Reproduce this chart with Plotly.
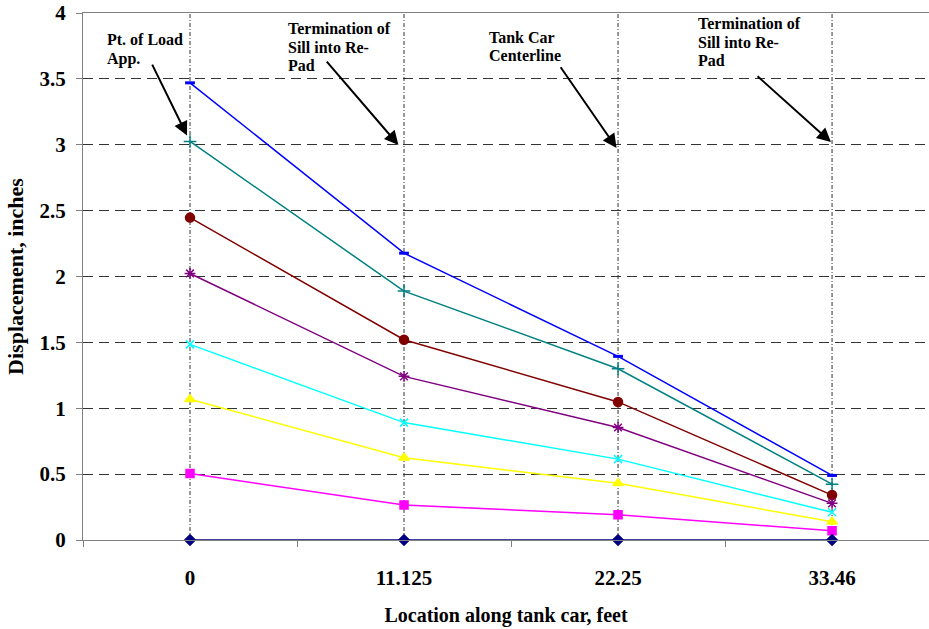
import plotly.graph_objects as go

# Locations along the tank car (feet) used as category labels
locations = ["0", "11.125", "22.25", "33.46"]

# Vertical displacement (inches) at each location, one list per load step
disp_1 = [3.47, 2.177, 1.394, 0.49]
disp_2 = [3.025, 1.889, 1.30, 0.424]
disp_3 = [2.447, 1.52, 1.048, 0.341]
disp_4 = [2.023, 1.242, 0.854, 0.278]
disp_5 = [1.485, 0.891, 0.614, 0.21]
disp_6 = [1.068, 0.624, 0.43, 0.139]
disp_7 = [0.505, 0.265, 0.192, 0.07]
disp_8 = [0.0, 0.0, 0.0, 0.0]

series = [
    ("Step 1", disp_1, "#0000FF", "line-ew", 7),
    ("Step 2", disp_2, "#008080", "cross-thin", 9),
    ("Step 3", disp_3, "#800000", "circle", 9),
    ("Step 4", disp_4, "#800080", "asterisk", 9),
    ("Step 5", disp_5, "#00FFFF", "x-thin", 8),
    ("Step 6", disp_6, "#FFFF00", "triangle-up", 9),
    ("Step 7", disp_7, "#FF00FF", "square", 8),
    ("Step 8", disp_8, "#000080", "diamond", 8),
]

FONT = "Times New Roman, Liberation Serif, Tinos, DejaVu Serif, serif"

fig = go.Figure()

# Dash-dot drop lines at each location (category index on the x axis)
for i, _ in enumerate(locations):
    fig.add_shape(type="line", xref="x", yref="paper", x0=i, x1=i, y0=0, y1=1,
                  line=dict(color="#333333", width=1, dash="4px,2px,1px,2px"), layer="below")

for name, vals, color, sym, size in series:
    marker = dict(symbol=sym, size=size, color=color,
                  line=dict(color=color, width=3 if sym == "line-ew" else 1.5))
    fig.add_trace(go.Scatter(x=locations, y=vals, name=name, mode="lines+markers",
                             line=dict(color=color, width=1.5), marker=marker,
                             showlegend=False, cliponaxis=False))

# Callout labels (one annotation per text line for tight line spacing)
LINE_STEP = 0.141  # ~18.5 px in data units
labels = [
    (["Pt. of Load", "App."], -0.395, 3.875),
    (["Termination of", "Sill into Re-", "Pad"], 0.447, 3.962),
    (["Tank Car", "Centerline"], 1.386, 3.895),
    (["Termination of", "Sill into Re-", "Pad"], 2.362, 4.0),
]
for lines, x, y in labels:
    for k, line in enumerate(lines):
        fig.add_annotation(text="<b>" + line + "</b>",
                           x=x, y=y - k * LINE_STEP, xref="x", yref="y",
                           xanchor="left", yanchor="top", align="left", showarrow=False,
                           font=dict(family=FONT, size=16, color="black"))

arrows = [
    (-0.014, 3.07, -0.180, 3.62),
    (0.974, 2.998, 0.633, 3.643),
    (1.993, 2.975, 1.727, 3.60),
    (2.995, 3.02, 2.645, 3.53),
]
for hx, hy, tx, ty in arrows:
    fig.add_annotation(text="", x=hx, y=hy, ax=tx, ay=ty, xref="x", yref="y",
                       axref="x", ayref="y", showarrow=True, arrowhead=2,
                       arrowsize=1.4, arrowwidth=2, arrowcolor="black", standoff=0,
                       startstandoff=0)

fig.update_layout(
    width=929, height=629,
    margin=dict(l=83, r=0, t=13, b=89),
    paper_bgcolor="white", plot_bgcolor="white",
    font=dict(family=FONT, color="black"),
)

fig.update_xaxes(
    type="category", categoryorder="array", categoryarray=locations,
    range=[-0.5, 3.453], tickson="boundaries", ticks="outside", ticklen=6,
    tickcolor="#808080", showgrid=False, showline=True, linecolor="#808080",
    linewidth=1, mirror=True, zeroline=False,
    tickfont=dict(family=FONT, size=21, color="black"), ticklabelstandoff=19,
    tickprefix="<b>", ticksuffix="</b>",
    title=dict(text="<b>Location along tank car, feet</b>", standoff=18,
               font=dict(family=FONT, size=20, color="black")),
    automargin=False,
)
fig.update_yaxes(
    range=[0, 4], dtick=0.5, tick0=0, tickformat="~g", ticks="outside", ticklen=6,
    tickcolor="#808080", showline=True, linecolor="#808080", linewidth=1,
    showgrid=True, gridcolor="#333333", gridwidth=1, griddash="10px,6px",
    zeroline=False,
    tickfont=dict(family=FONT, size=21, color="black"), ticklabelstandoff=6,
    tickprefix="<b>", ticksuffix="</b>",
    title=dict(text="<b>Displacement, inches</b>", standoff=9,
               font=dict(family=FONT, size=22, color="black")),
    automargin=False,
)

fig.write_html("out.html")
